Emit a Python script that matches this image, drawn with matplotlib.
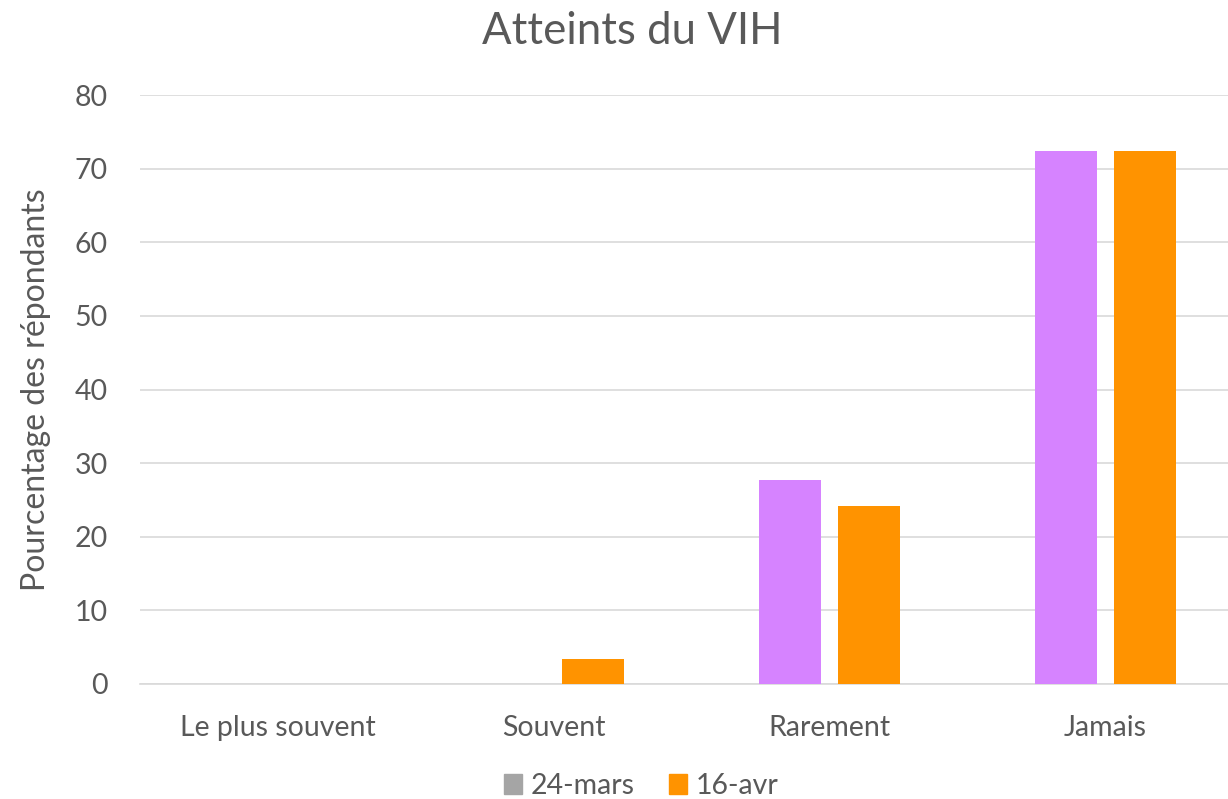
import matplotlib
matplotlib.use("Agg")
import matplotlib.pyplot as plt
from matplotlib.patches import Patch
import numpy as np

categories = ["Le plus souvent", "Souvent", "Rarement", "Jamais"]
mars_24 = [0, 0, 27.7, 72.4]
avr_16 = [0, 3.4, 24.2, 72.4]
series_labels = ["24-mars", "16-avr"]
yticks = [0, 10, 20, 30, 40, 50, 60, 70, 80]

plt.rcParams['font.family'] = ['Lato', 'DejaVu Sans']
txt = '#595959'

fig = plt.figure(figsize=(12.28, 7.99), dpi=100)
ax = fig.add_axes([139.5/1228, 115/799, 1104/1228, 589/799])

x = np.arange(len(categories))
w = 0.225
gap = 0.0616
ax.bar(x - (w + gap)/2, mars_24, width=w, color='#D683FF', zorder=3)
ax.bar(x + (w + gap)/2, avr_16, width=w, color='#FF9300', zorder=3)

ax.set_xlim(-0.5, 3.5)
ax.set_ylim(0, 80)
ax.set_yticks(yticks)
ax.set_xticks(x)
ax.set_xticklabels(categories)
ax.grid(axis='y', color='#D9D9D9', linewidth=1.2, zorder=0)
for s in ['top', 'right', 'left']:
    ax.spines[s].set_visible(False)
ax.spines['bottom'].set_color('#D9D9D9')
ax.spines['bottom'].set_linewidth(1.2)
ax.tick_params(axis='both', length=0, colors=txt, labelsize=20.5)
ax.tick_params(axis='x', pad=22)
ax.tick_params(axis='y', pad=23)

ax.set_ylabel("Pourcentage des répondants", color=txt, fontsize=23, labelpad=17)
fig.text(632/1228, 1 - 32/799, "Atteints du VIH", ha='center', va='center', color=txt, fontsize=31.5)

handles = [Patch(color='#A5A5A5', label=series_labels[0]),
           Patch(color='#FF9300', label=series_labels[1])]
fig.legend(handles=handles, loc='center', bbox_to_anchor=(0.522, 1 - 786/799), ncol=2,
           frameon=False, fontsize=20.5, labelcolor=txt, handlelength=0.65, handleheight=0.65,
           handletextpad=0.3, columnspacing=1.2)

fig.savefig("out.png", dpi=100)
